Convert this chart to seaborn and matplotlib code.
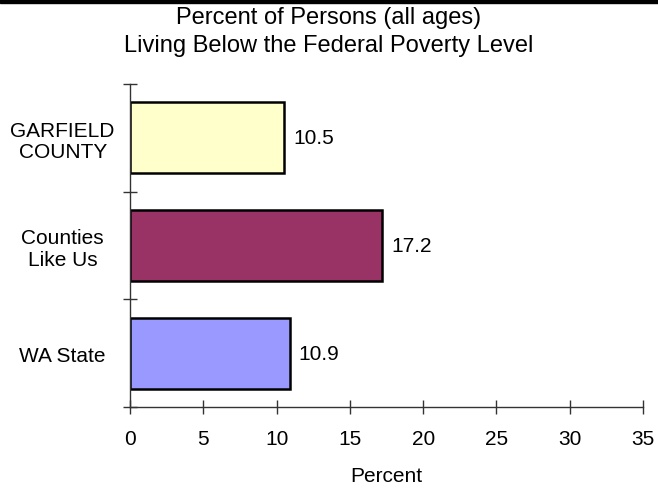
import matplotlib
matplotlib.use("Agg")
import matplotlib.pyplot as plt
import seaborn as sns
import pandas as pd
from matplotlib.patches import Rectangle

# Datos
categorias = ["GARFIELD\nCOUNTY", "Counties\nLike Us", "WA State"]
valores = [10.5, 17.2, 10.9]
colores = ["#FFFFCC", "#993366", "#9999FF"]
etiquetas_valor = ["10.5", "17.2", "10.9"]
ticks_x = [0, 5, 10, 15, 20, 25, 30, 35]

sns.set_style("white")
plt.rcParams["font.family"] = ["Liberation Sans", "DejaVu Sans"]
plt.rcParams["text.color"] = "black"
plt.rcParams["xtick.color"] = "black"
plt.rcParams["ytick.color"] = "black"
plt.rcParams["axes.labelcolor"] = "black"

df = pd.DataFrame({"categoria": categorias, "valor": valores})

fig = plt.figure(figsize=(6.58, 4.89), dpi=100)
ax = fig.add_axes([130 / 658, 1 - 408 / 489, 513 / 658, 323 / 489])

sns.barplot(data=df, x="valor", y="categoria", hue="categoria", palette=colores,
            orient="h", width=0.66, edgecolor="black", linewidth=1.8,
            saturation=1, legend=False, ax=ax)

for cont, txt in zip(ax.containers, etiquetas_valor):
    ax.bar_label(cont, labels=[txt], padding=6.5, fontsize=15, color="black")

ax.set_xlim(0, 35)
ax.set_ylim(2.5, -0.5)
ax.set_xticks(ticks_x)
ax.set_xticklabels([str(t) for t in ticks_x], fontsize=15)
ax.tick_params(axis="x", direction="inout", length=9.4, width=1, color="#333333",
               labelcolor="black", pad=11, bottom=True)

# Etiquetas de categoría en el centro, marcas en los límites
ax.set_yticks([0, 1, 2])
ax.set_yticklabels(categorias, fontsize=15, ha="center", multialignment="center",
                   linespacing=1.15)
ax.tick_params(axis="y", which="major", length=0, pad=48.5, labelcolor="black")
ax.set_yticks([-0.5, 0.5, 1.5, 2.5], minor=True)
ax.tick_params(axis="y", which="minor", direction="inout", length=9.4, width=1,
               color="#333333", left=True)

sns.despine(ax=ax)
for s in ["left", "bottom"]:
    ax.spines[s].set_color("#333333")
    ax.spines[s].set_linewidth(1)

ax.set_ylabel("")
ax.set_xlabel("Percent", fontsize=15, labelpad=13, color="black")

fig.text(0.5, 1 - 18 / 489, "Percent of Persons (all ages)", ha="center",
         va="center", fontsize=17, color="black")
fig.text(0.5, 1 - 46 / 489, "Living Below the Federal Poverty Level", ha="center",
         va="center", fontsize=17, color="black")

# Franja negra superior
fig.add_artist(Rectangle((0, 1 - 4 / 489), 1, 4 / 489, transform=fig.transFigure,
                         color="black"))

fig.savefig("out.png", dpi=100)
